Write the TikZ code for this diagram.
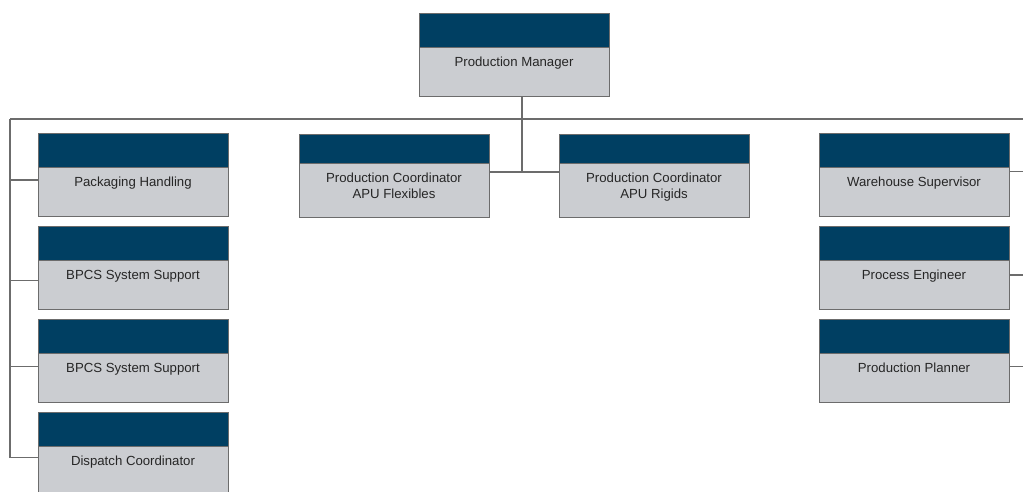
\documentclass[tikz,border=0pt]{standalone}
\usepackage{fontspec}
\setmainfont{Liberation Sans}
\usetikzlibrary{positioning}
\definecolor{hdrblue}{RGB}{0,63,98}
\definecolor{roleGrey}{RGB}{203,205,209}
\definecolor{edgeGrey}{RGB}{108,108,108}
\tikzset{
  head/.style={draw=edgeGrey, fill=hdrblue, line width=1pt, inner sep=0pt, outer sep=0pt, minimum width=190pt, minimum height=34pt},
  role/.style={draw=edgeGrey, fill=roleGrey, line width=1pt, inner sep=0pt, outer sep=0pt, minimum width=190pt, minimum height=49pt, align=center, text height=19pt, text depth=30pt, text=black!85},
  tworole/.style={role, minimum height=54pt, text height=35.7pt, text depth=18.3pt},
  link/.style={draw=edgeGrey, line width=1.2pt},
  every node/.style={font=\fontsize{13.2}{16}\selectfont}
}

\begin{document}
\begin{tikzpicture}[x=1pt, y=-1pt, node distance=10pt]
    \useasboundingbox (0,0) rectangle (1023,491);
    \clip (0,0) rectangle (1023,491);

    % manager
    \node[head, anchor=north west] (pmH) at (419,13) {};
    \node[role, below=0pt of pmH] (pm) {Production Manager};

    % coordinators
    \node[head, anchor=north west, minimum height=29pt] (pcfH) at (299,134) {};
    \node[tworole, below=0pt of pcfH] (pcf) {Production Coordinator\\APU Flexibles};
    \node[head, anchor=north west, minimum height=29pt] (pcrH) at (559,134) {};
    \node[tworole, below=0pt of pcrH] (pcr) {Production Coordinator\\APU Rigids};

    % left column
    \node[head, anchor=north west] (phH) at (38,133.5) {};
    \node[role, below=0pt of phH] (ph) {Packaging Handling};
    \node[head, below=10pt of ph] (bs1H) {};
    \node[role, below=0pt of bs1H] (bs1) {BPCS System Support};
    \node[head, below=10pt of bs1] (bs2H) {};
    \node[role, below=0pt of bs2H] (bs2) {BPCS System Support};
    \node[head, below=10pt of bs2] (dcH) {};
    \node[role, below=0pt of dcH] (dc) {Dispatch Coordinator};

    % right column
    \node[head, anchor=north west] (wsH) at (819,133.5) {};
    \node[role, below=0pt of wsH] (ws) {Warehouse Supervisor};
    \node[head, below=10pt of ws] (peH) {};
    \node[role, below=0pt of peH] (pe) {Process Engineer};
    \node[head, below=10pt of pe] (ppH) {};
    \node[role, below=0pt of ppH] (pp) {Production Planner};

    % connectors
    \coordinate (busL) at (10,119);
    \coordinate (busR) at (1023,119);
    \coordinate (drop) at (522,172);
    \draw[link] (busL) -- (busR);
    \draw[link] (pm.south -| drop) -- (drop);
    \draw[link] (pcf.east |- drop) -- (pcr.west |- drop);

    \foreach \b/\d in {ph/12.5, bs1/20, bs2/13, dc/11} {
        \path ([yshift=-\d pt]\b.north west) coordinate (\b-tap);
        \draw[link] (\b-tap) -- (busL |- \b-tap);
    }
    \draw[link] (busL) -- (busL |- dc-tap);

    \foreach \b/\d in {ws/4, pe/14.5, pp/13} {
        \path ([yshift=-\d pt]\b.north east) coordinate (\b-tap);
        \draw[link] (\b-tap) -- (busR |- \b-tap);
    }
\end{tikzpicture}
\end{document}
